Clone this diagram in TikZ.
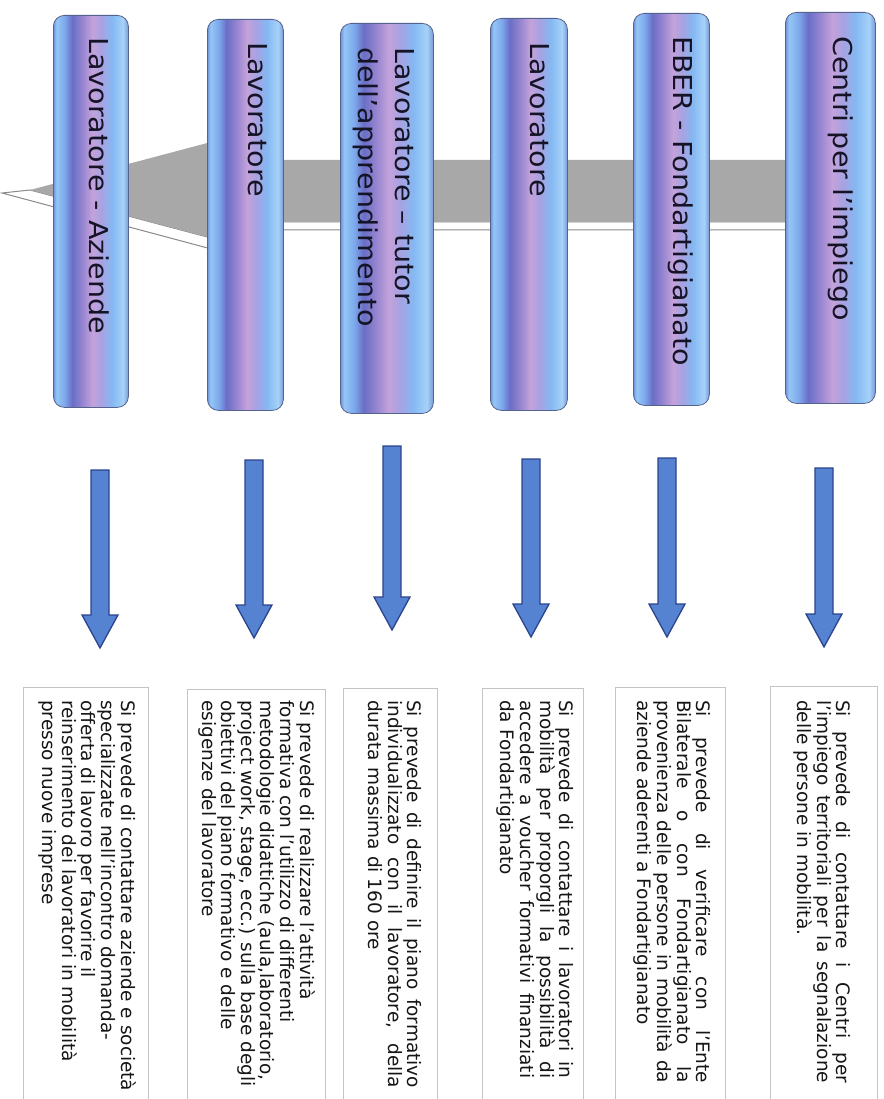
\documentclass[tikz,border=0pt]{standalone}
\usepackage{fontspec}
\newfontfamily\barfont[FakeStretch=1.1]{DejaVu Sans}
\newfontfamily\boxfont{DejaVu Sans}
\usetikzlibrary{calc}
\definecolor{bA}{HTML}{6F93D8}
\definecolor{bB}{HTML}{94C6F6}
\definecolor{bC}{HTML}{7DA8EC}
\definecolor{bD}{HTML}{6A6EC6}
\definecolor{bE}{HTML}{9484D0}
\definecolor{bF}{HTML}{C4A2DA}
\definecolor{bG}{HTML}{A8A2E2}
\definecolor{bH}{HTML}{84B8F2}
\definecolor{bI}{HTML}{A6D2F8}
\definecolor{bJ}{HTML}{7898D8}
\definecolor{barline}{HTML}{55628E}
\definecolor{labeltext}{HTML}{141426}
\definecolor{arrowgray}{HTML}{A8A8A8}
\definecolor{arrowedge}{HTML}{8A8A8A}
\definecolor{bluefill}{HTML}{5682D2}
\definecolor{blueline}{HTML}{2A448E}
\definecolor{boxline}{HTML}{C4C4C4}
\definecolor{boxtextcol}{HTML}{161616}
\pgfdeclarehorizontalshading{barshade}{100bp}{color(0bp)=(bA); color(25bp)=(bA); color(27bp)=(bB); color(32.5bp)=(bC); color(37.5bp)=(bD); color(44bp)=(bE); color(51bp)=(bF); color(57bp)=(bG); color(64bp)=(bH); color(71.5bp)=(bI); color(75bp)=(bJ); color(100bp)=(bJ)}
\newcommand\blockarrowdown[2]{%
  \filldraw[downarr] ($(#1)+(-9,0)$) -- ($(#2)+(-9,-33)$) -- ($(#2)+(-18,-33)$) -- (#2)
    -- ($(#2)+(18,-33)$) -- ($(#2)+(9,-33)$) -- ($(#1)+(9,0)$) -- cycle;}
\begin{document}
\begin{tikzpicture}[x=1pt,y=-1pt,
  colbar/.style={shading=barshade, draw=barline, line width=0.8pt, rounded corners=11pt, inner sep=0pt, anchor=north west},
  barlabel/.style={rotate=-90, anchor=base west, inner sep=0pt, font=\barfont\fontsize{26}{37}\selectfont, text=labeltext},
  infobox/.style={fill=white, draw=boxline, line width=0.9pt, inner sep=0pt, anchor=north west},
  infotext/.style={rotate=-90, anchor=north west, inner sep=0pt, align=left, font=\boxfont\fontsize{18.5}{19.6}\selectfont, text=boxtextcol},
  downarr/.style={fill=bluefill, draw=blueline, line width=1.3pt, line join=miter}
]
\useasboundingbox (0,0) rectangle (883,1099);
\clip (0,0) rectangle (883,1099);

% big grey background arrow (3D)
\filldraw[fill=white, draw=arrowedge, line width=1pt]
  (30,190) -- (2,193) -- (245,258) -- (245,230) -- (840,230) -- (840,222) -- (245,222) -- (245,247) -- cycle;
\fill[arrowgray]
  (30,190) -- (245,133) -- (245,160) -- (840,160) -- (840,222) -- (245,222) -- (245,247) -- cycle;

% vertical bars
\node[colbar, minimum width=75pt, minimum height=392pt] (b1) at (53,15) {};
\node[colbar, minimum width=76pt, minimum height=391pt] (b2) at (207,19) {};
\node[colbar, minimum width=93pt, minimum height=390pt] (b3) at (340,23) {};
\node[colbar, minimum width=77pt, minimum height=392pt] (b4) at (490,18) {};
\node[colbar, minimum width=76pt, minimum height=392pt] (b5) at (633,13) {};
\node[colbar, minimum width=90pt, minimum height=391pt] (b6) at (785,12) {};

% bar labels
\node[barlabel] (t1) at (89,37) {Lavoratore - Aziende};
\node[barlabel] (t2) at (248,42) {Lavoratore};
\node[barlabel] (t3a) at (395,47) {Lavoratore – tutor};
\node[barlabel] (t3b) at (358,47) {dell’apprendimento};
\node[barlabel] (t4) at (530,42) {Lavoratore};
\node[barlabel] (t5) at (673,36) {EBER - Fondartigianato};
\node[barlabel] (t6) at (833,36) {Centri per l’impiego};

% down arrows
\coordinate (s1) at (100,470); \coordinate (e1) at (100,648);
\coordinate (s2) at (254,460); \coordinate (e2) at (254,638);
\coordinate (s3) at (392,446); \coordinate (e3) at (392,630);
\coordinate (s4) at (531,459); \coordinate (e4) at (531,637);
\coordinate (s5) at (667,458); \coordinate (e5) at (667,637);
\coordinate (s6) at (824,468); \coordinate (e6) at (824,647);
\blockarrowdown{s1}{e1}
\blockarrowdown{s2}{e2}
\blockarrowdown{s3}{e3}
\blockarrowdown{s4}{e4}
\blockarrowdown{s5}{e5}
\blockarrowdown{s6}{e6}

% text boxes
\node[infobox, minimum width=125pt, minimum height=430pt] (x1) at (23,687) {};
\node[infobox, minimum width=138pt, minimum height=430pt] (x2) at (187,689) {};
\node[infobox, minimum width=94pt, minimum height=430pt] (x3) at (343,688) {};
\node[infobox, minimum width=101pt, minimum height=430pt] (x4) at (482,688) {};
\node[infobox, minimum width=110pt, minimum height=430pt] (x5) at (615,687) {};
\node[infobox, minimum width=107pt, minimum height=430pt] (x6) at (770,686) {};

\node[infotext] (p1) at (136,700) {Si prevede di contattare aziende e società\\
specializzate nell’incontro domanda-\\
offerta di lavoro per favorire il\\
reinserimento dei lavoratori in mobilità\\
presso nuove imprese};

\node[infotext] (p2) at (315,700) {Si prevede di realizzare l’attività\\
formativa con l’utilizzo di differenti\\
metodologie didattiche (aula,laboratorio,\\
project work, stage, ecc.) sulla base degli\\
obiettivi del piano formativo e delle\\
esigenze del lavoratore};

\node[infotext] (p3) at (422,700) {\makebox[388pt][s]{Si prevede di definire il piano formativo}\\
\makebox[388pt][s]{individualizzato con il lavoratore, della}\\
durata massima di 160 ore};

\node[infotext] (p4) at (574,700) {\makebox[378pt][s]{Si prevede di contattare i lavoratori in}\\
\makebox[378pt][s]{mobilità per proporgli la possibilità di}\\
\makebox[378pt][s]{accedere a voucher formativi finanziati}\\
da Fondartigianato};

\node[infotext] (p5) at (711,700) {\makebox[383pt][s]{Si prevede di verificare con l’Ente}\\
\makebox[383pt][s]{Bilaterale o con Fondartigianato la}\\
\makebox[383pt][s]{provenienza delle persone in mobilità da}\\
aziende aderenti a Fondartigianato};

\node[infotext] (p6) at (851,700) {\makebox[383pt][s]{Si prevede di contattare i Centri per}\\
\makebox[383pt][s]{l’impiego territoriali per la segnalazione}\\
delle persone in mobilità.};
\end{tikzpicture}
\end{document}
